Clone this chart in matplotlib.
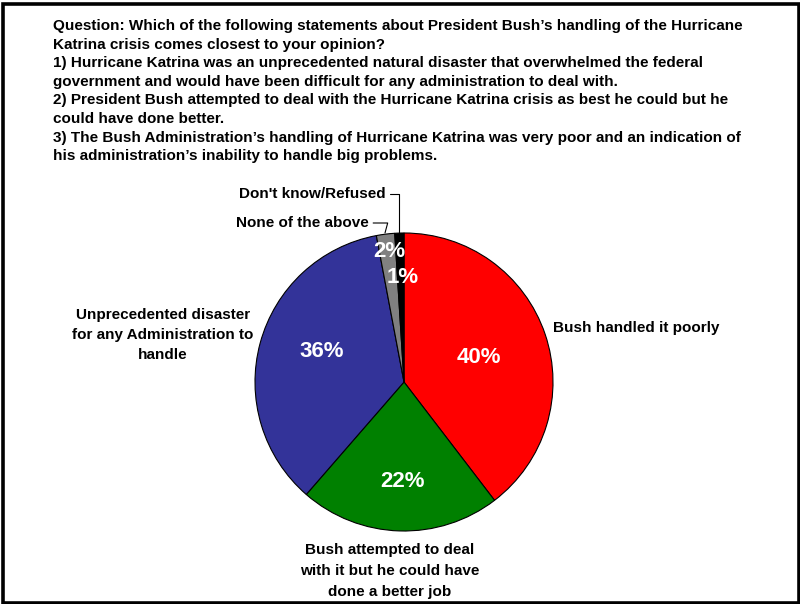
import matplotlib
matplotlib.use("Agg")
import matplotlib.pyplot as plt
import numpy as np

plt.rcParams['font.family'] = ['Liberation Sans', 'DejaVu Sans']

question = ("Question: Which of the following statements about President Bush\u2019s handling of the Hurricane\n"
            "Katrina crisis comes closest to your opinion?\n"
            "1) Hurricane Katrina was an unprecedented natural disaster that overwhelmed the federal\n"
            "government and would have been difficult for any administration to deal with.\n"
            "2) President Bush attempted to deal with the Hurricane Katrina crisis as best he could but he\n"
            "could have done better.\n"
            "3) The Bush Administration\u2019s handling of Hurricane Katrina was very poor and an indication of\n"
            "his administration\u2019s inability to handle big problems.")

labels = ["Bush handled it poorly",
          "Bush attempted to deal\nwith it but he could have\ndone a better job",
          "Unprecedented disaster\nfor any Administration to\nhandle",
          "None of the above",
          "Don't know/Refused"]
values = [40, 22, 36, 2, 1]
colors = ["#ff0000", "#008000", "#333399", "#808080", "#000000"]

W, H = 800, 604
fig = plt.figure(figsize=(W / 100, H / 100), dpi=100)

# frame around the whole picture (pixel coords, y from top)
fig.patches.append(plt.Rectangle((3 / W, 1 - 602.5 / H), 795.5 / W, 599 / H, transform=fig.transFigure,
                                 fill=False, lw=2.6, ec="black"))

fig.text(53 / W, 1 - 19 / H, question, ha="left", va="top", fontsize=11, fontweight="bold",
         linespacing=1.42)

cx, cy, r = 404, 382, 149
ax = fig.add_axes([(cx - r) / W, (H - cy - r) / H, 2 * r / W, 2 * r / H])
wedges, texts, autotexts = ax.pie(values, colors=colors, startangle=90, counterclock=False,
                                  autopct=lambda p: f"{p * sum(values) / 100:.0f}%",
                                  wedgeprops=dict(edgecolor="black", linewidth=0.8),
                                  textprops=dict(color="white", fontsize=16, fontweight="bold"))
ax.set_xlim(-1, 1)
ax.set_ylim(-1, 1)
ax.set_aspect("equal")

# distance of each percent label from the centre
pct_dist = [0.52, 0.67, 0.60, 0.88, 0.70]
pct_shift = [0, 0, 5, 0, 0]   # small angle tweaks, degrees
for w, t, d, s in zip(wedges, autotexts, pct_dist, pct_shift):
    ang = np.deg2rad((w.theta1 + w.theta2) / 2 - s)
    t.set_position((d * np.cos(ang) + 0.01, d * np.sin(ang)))
    t.set_ha("center")
    t.set_va("center")


def px(x, y):
    return ((x - cx) / r, (cy - y) / r)


lab_kw = dict(fontsize=11, fontweight="bold", color="black", annotation_clip=False)
ax.annotate(labels[0], xy=px(553, 328), ha="left", va="center", **lab_kw)
ax.annotate(labels[1], xy=px(390, 571), ha="center", va="center", linespacing=1.6, **lab_kw)
ax.annotate(labels[2], xy=px(163, 335), ha="center", va="center", linespacing=1.54, **lab_kw)

# small slices get leader lines
ax.annotate(labels[3], xy=px(385, 233), xytext=px(369, 223), ha="right", va="center",
            arrowprops=dict(arrowstyle="-", lw=0.8, color="black",
                            connectionstyle="angle,angleA=0,angleB=75,rad=0",
                            shrinkA=1, shrinkB=0), **lab_kw)
ax.annotate(labels[4], xy=px(399, 233), xytext=px(386, 194), ha="right", va="center",
            arrowprops=dict(arrowstyle="-", lw=0.8, color="black",
                            connectionstyle="angle,angleA=0,angleB=90,rad=0",
                            shrinkA=1, shrinkB=0), **lab_kw)

fig.savefig("out.png", dpi=100)
